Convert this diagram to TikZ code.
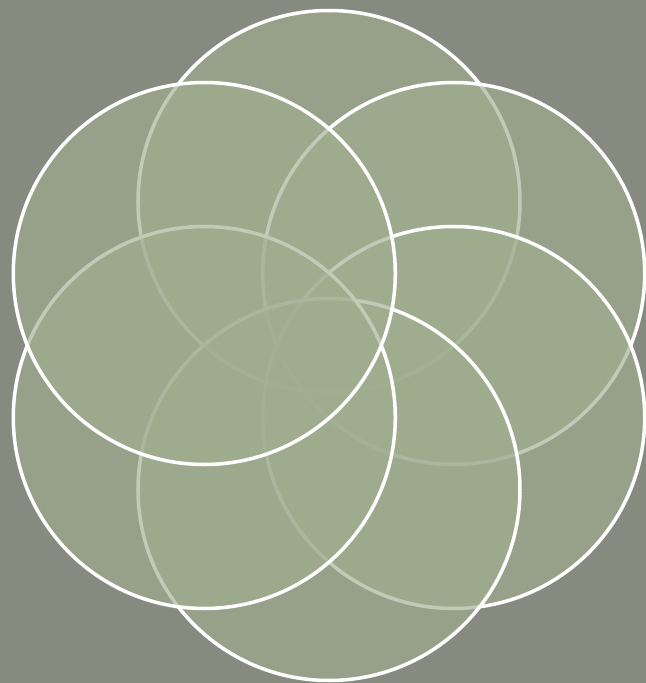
\documentclass[tikz,border=0pt]{standalone}
\usepackage{tikz}

\definecolor{bggrey}{RGB}{135,139,127}
\definecolor{sage}{RGB}{160,174,143}

\begin{document}
\begin{tikzpicture}[line width=1pt]
        % Background
        \fill[bggrey] (0,0) rectangle (6.46,6.83);
        \useasboundingbox (0,0) rectangle (6.46,6.83);
        
        % Centre of the rosette
        \coordinate (O) at (3.29,3.375);
        
        % Six petals, drawn clockwise from the top
        \foreach \ang in {90,30,-30,-90,-150,-210}
            \draw[white, fill=sage, fill opacity=0.65] (O) ++(\ang:1.44) circle (1.91);
    \end{tikzpicture}
\end{document}
